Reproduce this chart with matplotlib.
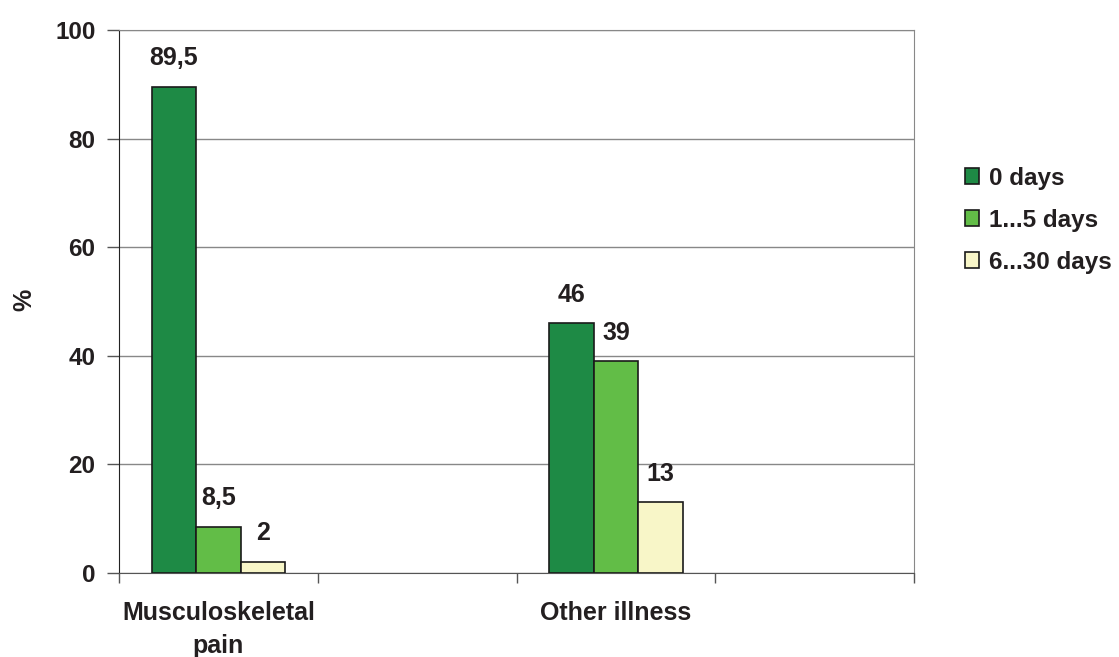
import matplotlib
matplotlib.use("Agg")
import matplotlib.pyplot as plt
import numpy as np

categories = ["Musculoskeletal\npain", "Other illness"]
series_names = ["0 days", "1...5 days", "6...30 days"]
values_0days = [89.5, 46]
values_1_5days = [8.5, 39]
values_6_30days = [2, 13]
value_labels = [["89,5", "46"], ["8,5", "39"], ["2", "13"]]
colors = ["#1E8A45", "#62BD47", "#F8F6C8"]

plt.rcParams['font.family'] = ['Liberation Sans', 'DejaVu Sans']
plt.rcParams['font.weight'] = 'bold'

fig = plt.figure(figsize=(11.19, 6.57), dpi=100)
ax = fig.add_axes([119/1119, 1 - 573/657, (914-119)/1119, (573-30)/657])

series = [values_0days, values_1_5days, values_6_30days]
cat_pos = np.array([0, 2])
w = 0.224
for i, (vals, name, col) in enumerate(zip(series, series_names, colors)):
    x = cat_pos + (i - 1) * w
    ax.bar(x, vals, width=w, color=col, edgecolor="#1a1a1a", linewidth=1.2,
           label=name, zorder=3)
    for xi, v, lab in zip(x, vals, value_labels[i]):
        ax.annotate(lab, (xi, v), xytext=(0, 12), textcoords="offset points",
                    ha="center", va="bottom", fontsize=18, fontweight="bold",
                    color="#231f20")

ax.set_xlim(-0.5, 3.5)
ax.set_ylim(0, 100)
ax.set_yticks(np.arange(0, 101, 20))
ax.tick_params(axis="y", labelsize=17.5, length=9, width=1, color="#555555",
               pad=8, labelcolor="#231f20")
ax.yaxis.grid(True, color="#888888", linewidth=1, zorder=0)

ax.set_xticks(np.arange(-0.5, 3.6, 1.0))
ax.set_xticklabels([])
ax.tick_params(axis="x", which="major", length=7, width=1, color="#555555")
ax.set_xticks(cat_pos, minor=True)
ax.set_xticklabels(categories, minor=True, fontsize=18, fontweight="bold",
                   color="#231f20", linespacing=1.5)
ax.tick_params(axis="x", which="minor", length=0, pad=20)

for s in ["top", "right"]:
    ax.spines[s].set_color("#888888")
ax.spines["left"].set_color("#222222")
ax.spines["bottom"].set_color("#555555")

ax.set_ylabel("%", fontsize=18, fontweight="bold", color="#231f20")
ax.yaxis.set_label_coords((36 - 119) / 795, (573 - 300) / 543)

leg = ax.legend(loc="upper left", bbox_to_anchor=(955/1119, 1 - 157/657),
                bbox_transform=fig.transFigure, frameon=False, fontsize=17.5,
                handlelength=0.6, handleheight=0.6, handletextpad=0.4,
                labelspacing=0.78, borderaxespad=0)
for t in leg.get_texts():
    t.set_color("#231f20")

fig.savefig("out.png", dpi=100)
